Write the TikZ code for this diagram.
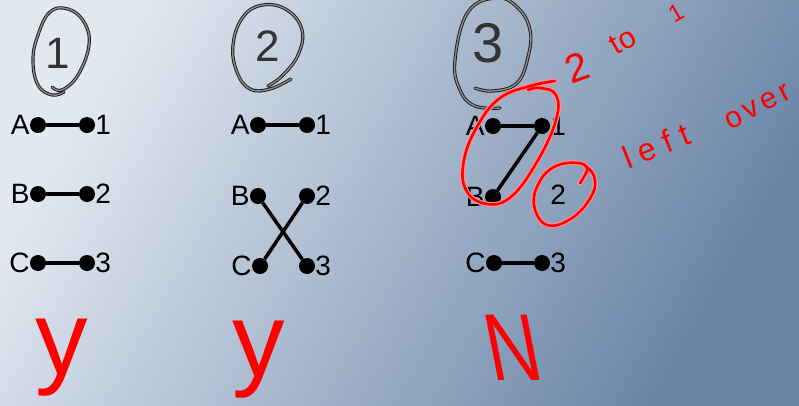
\documentclass[tikz,border=0pt]{standalone}
\usepackage{fontspec}
\setmainfont{Liberation Sans}
\usetikzlibrary{positioning}

\definecolor{hellblau}{RGB}{226,232,240}
\definecolor{dunkelblau}{RGB}{104,132,166}
\definecolor{halo}{RGB}{255,140,150}

\tikzset{
  punkt/.style={circle, fill=black, inner sep=0pt, minimum size=16pt},
  leer/.style={circle, inner sep=0pt, minimum size=16pt},
  marke/.style={inner sep=0pt, font=\fontsize{28}{32}\selectfont},
  verbindung/.style={line width=3.5pt},
  kreis/.style={draw=black!90, line width=0.9pt, double=black!45,
    double distance=1.4pt, line cap=round, line join=round},
  ziffer/.style={inner sep=0pt, text=black!80},
  rotstift/.style={draw=red, line width=2.6pt, line cap=round, line join=round,
    preaction={draw=halo, line width=5pt, line cap=round}},
  notiz/.style={inner sep=0pt, text=red},
}

\begin{document}
\begin{tikzpicture}[x=1pt, y=-1pt]

% --- Rahmen und Hintergrund (Pixelmass, y nach unten) ---
\useasboundingbox (0,0) rectangle (799,405);
\clip (0,0) rectangle (799,405);
\shade[top color=hellblau, bottom color=dunkelblau, shading angle=60]
  (0,0) rectangle (799,405);

% --- Gruppe 1: Punkte ---
\node[punkt] (a1)  at (38,125) {};
\node[punkt] (n11) at (87,125) {};
\node[punkt] (b1)  at (38,194) {};
\node[punkt] (n12) at (87,194) {};
\node[punkt] (c1)  at (38,263) {};
\node[punkt] (n13) at (87,263) {};

% --- Gruppe 1: Beschriftung ---
\node[marke, left=0pt of a1]   (ta1)  {A};
\node[marke, right=0pt of n11] (tn11) {1};
\node[marke, left=0pt of b1]   (tb1)  {B};
\node[marke, right=0pt of n12] (tn12) {2};
\node[marke, left=0pt of c1]   (tc1)  {C};
\node[marke, right=0pt of n13] (tn13) {3};

% --- Gruppe 1: Zuordnung ---
\draw[verbindung] (a1) -- (n11);
\draw[verbindung] (b1) -- (n12);
\draw[verbindung] (c1) -- (n13);

% --- Gruppe 2: Punkte ---
\node[punkt] (a2)  at (258,125) {};
\node[punkt] (n21) at (307,125) {};
\node[punkt] (b2)  at (258,196) {};
\node[punkt] (n22) at (307,196) {};
\node[punkt] (c2)  at (260,266) {};
\node[punkt] (n23) at (307,266) {};

% --- Gruppe 2: Beschriftung ---
\node[marke, left=0pt of a2]   (ta2)  {A};
\node[marke, right=0pt of n21] (tn21) {1};
\node[marke, left=0pt of b2]   (tb2)  {B};
\node[marke, right=0pt of n22] (tn22) {2};
\node[marke, left=0pt of c2]   (tc2)  {C};
\node[marke, right=0pt of n23] (tn23) {3};

% --- Gruppe 2: Zuordnung (gekreuzt) ---
\draw[verbindung] (a2) -- (n21);
\draw[verbindung] (b2) -- (n23);
\draw[verbindung] (c2) -- (n22);

% --- Gruppe 3: Punkte (2 ohne Punkt) ---
\node[punkt] (a3)  at (493,126) {};
\node[punkt] (n31) at (542,126) {};
\node[punkt] (b3)  at (493,197) {};
\node[leer]  (n32) at (542,195) {};
\node[punkt] (c3)  at (494,263) {};
\node[punkt] (n33) at (542,263) {};

% --- Gruppe 3: Beschriftung ---
\node[marke, left=0pt of a3]   (ta3)  {A};
\node[marke, right=0pt of n31] (tn31) {1};
\node[marke, left=0pt of b3]   (tb3)  {B};
\node[marke, right=0pt of n32] (tn32) {2};
\node[marke, left=0pt of c3]   (tc3)  {C};
\node[marke, right=0pt of n33] (tn33) {3};

% --- Gruppe 3: Zuordnung ---
\draw[verbindung] (a3) -- (n31);
\draw[verbindung] (n31) -- (b3);
\draw[verbindung] (c3) -- (n33);

% --- Eingekreiste Nummern (schwarz, von Hand) ---
\node[ziffer, font=\fontsize{44}{48}\selectfont] (k1) at (58,53) {1};
\draw[kreis] plot[smooth, tension=0.7] coordinates {(52,87) (62,90) (78,75)
  (89,45) (84,22) (68,9) (50,12) (38,35) (33,60) (38,85) (52,95) (64,92)};

\node[ziffer, font=\fontsize{44}{48}\selectfont] (k2) at (268,46) {2};
\draw[kreis] plot[smooth, tension=0.7] coordinates {(291,79) (270,89) (250,89)
  (237,72) (233,45) (243,17) (263,5) (287,10) (302,30) (298,55) (282,76) (268,86)};

\node[ziffer, font=\fontsize{56}{60}\selectfont] (k3) at (488,43) {3};
\draw[kreis] plot[smooth, tension=0.7] coordinates {(475,88) (493,91) (517,83)
  (528,57) (530,30) (518,8) (497,-2) (468,12) (455,60) (460,90) (475,106) (500,108)};

% --- Rote Anmerkungen ---
\draw[rotstift] plot[smooth, tension=0.7] coordinates {(555,81) (530,86) (500,98)
  (478,125) (464,160) (466,190) (487,204) (512,196) (538,160) (556,120)
  (556,95) (540,88) (528,90)};
\draw[rotstift] plot[smooth, tension=0.7] coordinates {(580,183) (587,169)
  (578,163) (556,166) (540,181) (534,205) (547,225) (572,218) (592,195)
  (594,176) (584,165)};

% --- "2 to 1" und "left over", wortweise ---
\node[notiz, rotate=20, font=\fontsize{40}{44}\selectfont] (zwei) at (577,68) {2};
\node[notiz, rotate=30, font=\fontsize{30}{34}\selectfont] (zu) at (623,41) {to};
\node[notiz, rotate=30, font=\fontsize{24}{28}\selectfont] (eins) at (676,13) {1};
\node[notiz, rotate=22,
  font=\fontsize{32}{36}\selectfont\addfontfeature{LetterSpace=28}]
  (links) at (656,146) {left};
\node[notiz, rotate=28,
  font=\fontsize{30}{34}\selectfont\addfontfeature{LetterSpace=14}]
  (ueber) at (758,107) {over};

% --- Urteil je Gruppe ---
\node[notiz, font=\fontsize{105}{110}\selectfont] (ja1) at (62,358) {y};
\node[notiz, font=\fontsize{105}{110}\selectfont] (ja2) at (259,360) {y};
\node[notiz, xscale=0.78, xslant=-0.25, font=\fontsize{95}{100}\selectfont]
  (nein) at (513,348) {N};

\end{tikzpicture}
\end{document}
